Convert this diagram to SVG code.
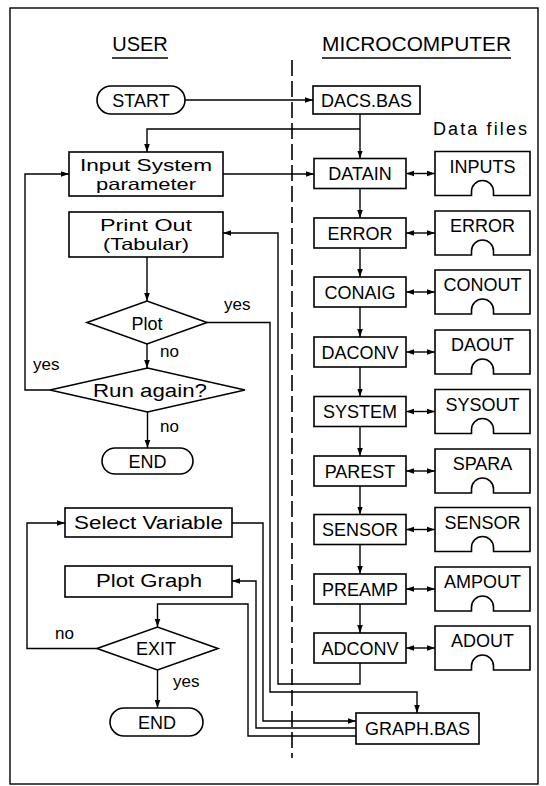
<svg xmlns="http://www.w3.org/2000/svg" width="546" height="786" viewBox="0 0 546 786">
<defs>
<marker id="ah" viewBox="0 0 10 10" refX="10" refY="5" markerWidth="8" markerHeight="8" markerUnits="userSpaceOnUse" orient="auto-start-reverse"><path d="M0,1.5 L10,5 L0,8.5 Z" fill="#000"/></marker>
</defs>
<style>
.b{fill:#fff;stroke:#000;stroke-width:1.6}
.c{fill:none;stroke:#000;stroke-width:1.4}
.a{marker-end:url(#ah)}
.d{marker-start:url(#ah);marker-end:url(#ah)}
text{font-family:"Liberation Sans",Arial,sans-serif;font-size:18px;fill:#000}
.m{text-anchor:middle}
.l{font-size:17px}
.t{font-size:16.5px}
</style>
<rect x="10" y="8" width="528" height="776" fill="#fff" stroke="#000" stroke-width="1.4"/>
<line x1="292" y1="60" x2="292" y2="758" stroke="#000" stroke-width="1.6" stroke-dasharray="16 5"/>
<g id="titles">
<text x="140" y="51" class="m" style="font-size:20px">USER</text>
<line x1="112" y1="58" x2="168" y2="58" stroke="#000" stroke-width="1.4"/>
<text x="416.5" y="51" class="m" style="font-size:20px" textLength="189" lengthAdjust="spacingAndGlyphs">MICROCOMPUTER</text>
<line x1="322" y1="58" x2="511" y2="58" stroke="#000" stroke-width="1.4"/>
<text x="480" y="135" class="m" textLength="94">Data files</text>
</g>
<g id="connectors">
<path class="c a" d="M185,100 H313"/>
<path class="c a" d="M360,114 V158.5"/>
<path class="c a" d="M360,129 H147 V152"/>
<path class="c a" d="M223,174 H314"/>
<path class="c a" d="M360,188.5 V218"/>
<path class="c a" d="M360,248 V277"/>
<path class="c a" d="M360,307 V337"/>
<path class="c a" d="M360,367 V396.5"/>
<path class="c a" d="M360,426.5 V456"/>
<path class="c a" d="M360,486 V514.5"/>
<path class="c a" d="M360,544.5 V574"/>
<path class="c a" d="M360,604 V633"/>
<path class="c d" d="M406,173.5 H435"/>
<path class="c d" d="M406,233 H435"/>
<path class="c d" d="M406,292 H435"/>
<path class="c d" d="M406,352 H435"/>
<path class="c d" d="M406,411.5 H435"/>
<path class="c d" d="M406,471 H435"/>
<path class="c d" d="M406,529.5 H435"/>
<path class="c d" d="M406,589 H435"/>
<path class="c d" d="M406,648 H435"/>
<path class="c a" d="M147,257 V301"/>
<path class="c a" d="M147,344 V368"/>
<path class="c a" d="M147.5,412 V448"/>
<path class="c a" d="M50,390 H25 V174 H69"/>
<path class="c a" d="M207,322.5 H270 V692 H417 V713"/>
<path class="c a" d="M360,663 V684 H278 V233 H223"/>
<path class="c a" d="M232,523 H263 V721 H356"/>
<path class="c a" d="M356,728 H256 V581 H232"/>
<path class="c a" d="M356,736 H248 V604 H157.5 V627"/>
<path class="c a" d="M97,648.5 H27 V523 H65"/>
<path class="c a" d="M157.5,670 V708"/>
</g>
<g id="start"><rect class="b" x="97" y="86" width="88" height="28" rx="14"/><text x="141" y="107" class="m">START</text></g>
<g id="dacs"><rect class="b" x="313" y="86" width="107" height="28"/><text x="366.5" y="107" class="m">DACS.BAS</text></g>
<g id="input"><rect class="b" x="69" y="152" width="154" height="44"/><text x="146" y="171" class="m t" textLength="132" lengthAdjust="spacingAndGlyphs">Input System</text><text x="146" y="190" class="m t" textLength="100" lengthAdjust="spacingAndGlyphs">parameter</text></g>
<g id="printout"><rect class="b" x="69" y="212" width="154" height="45"/><text x="146" y="231" class="m t" textLength="92" lengthAdjust="spacingAndGlyphs">Print Out</text><text x="146" y="250" class="m t" textLength="86" lengthAdjust="spacingAndGlyphs">(Tabular)</text></g>
<g id="plot"><polygon class="b" points="87,322.5 147,301 207,322.5 147,344"/><text x="147" y="330" class="m">Plot</text></g>
<g id="runagain"><polygon class="b" points="50,390 147.5,368 245,390 147.5,412"/><text x="150" y="397" class="m" textLength="114" lengthAdjust="spacingAndGlyphs">Run again?</text></g>
<g id="end1"><rect class="b" x="102" y="448" width="91" height="26" rx="13"/><text x="147.5" y="467.5" class="m">END</text></g>
<g id="selectvar"><rect class="b" x="65" y="508" width="167" height="29"/><text x="148.5" y="529" class="m" textLength="149" lengthAdjust="spacingAndGlyphs">Select Variable</text></g>
<g id="plotgraph"><rect class="b" x="65" y="566" width="167" height="31"/><text x="149" y="587" class="m" textLength="106" lengthAdjust="spacingAndGlyphs">Plot Graph</text></g>
<g id="exit"><polygon class="b" points="97,648.5 157.5,627 218,648.5 157.5,670"/><text x="156" y="655" class="m">EXIT</text></g>
<g id="end2"><rect class="b" x="110" y="708" width="93" height="28" rx="14"/><text x="157" y="728.5" class="m">END</text></g>
<g id="graphbas"><rect class="b" x="356" y="713" width="123" height="31"/><text x="417.5" y="735" class="m">GRAPH.BAS</text></g>
<g id="labels">
<text x="224" y="310" class="l">yes</text>
<text x="160" y="357" class="l">no</text>
<text x="33" y="370" class="l">yes</text>
<text x="160" y="432" class="l">no</text>
<text x="55" y="639" class="l">no</text>
<text x="173" y="687" class="l">yes</text>
</g>
<g id="datain"><rect class="b" x="314" y="158.5" width="92" height="30"/><text x="360" y="180" class="m">DATAIN</text></g>
<g id="error"><rect class="b" x="314" y="218" width="92" height="30"/><text x="360" y="239.5" class="m">ERROR</text></g>
<g id="conaig"><rect class="b" x="314" y="277" width="92" height="30"/><text x="360" y="298.5" class="m">CONAIG</text></g>
<g id="daconv"><rect class="b" x="314" y="337" width="92" height="30"/><text x="360" y="358.5" class="m">DACONV</text></g>
<g id="system"><rect class="b" x="314" y="396.5" width="92" height="30"/><text x="360" y="418" class="m">SYSTEM</text></g>
<g id="parest"><rect class="b" x="314" y="456" width="92" height="30"/><text x="360" y="477.5" class="m">PAREST</text></g>
<g id="sensor"><rect class="b" x="314" y="514.5" width="92" height="30"/><text x="360" y="536" class="m">SENSOR</text></g>
<g id="preamp"><rect class="b" x="314" y="574" width="92" height="30"/><text x="360" y="595.5" class="m">PREAMP</text></g>
<g id="adconv"><rect class="b" x="314" y="633" width="92" height="30"/><text x="360" y="654.5" class="m">ADCONV</text></g>
<g id="f-inputs"><path class="b" d="M435,151.5 H530 V195.5 H493.5 v-4 a11,11 0 0 0 -22,0 v4 H435 Z"/><text x="482.5" y="172.5" class="m">INPUTS</text></g>
<g id="f-error"><path class="b" d="M435,211 H530 V255 H493.5 v-4 a11,11 0 0 0 -22,0 v4 H435 Z"/><text x="482.5" y="232" class="m">ERROR</text></g>
<g id="f-conout"><path class="b" d="M435,270 H530 V314 H493.5 v-4 a11,11 0 0 0 -22,0 v4 H435 Z"/><text x="482.5" y="291" class="m">CONOUT</text></g>
<g id="f-daout"><path class="b" d="M435,330 H530 V374 H493.5 v-4 a11,11 0 0 0 -22,0 v4 H435 Z"/><text x="482.5" y="351" class="m">DAOUT</text></g>
<g id="f-sysout"><path class="b" d="M435,389.5 H530 V433.5 H493.5 v-4 a11,11 0 0 0 -22,0 v4 H435 Z"/><text x="482.5" y="410.5" class="m">SYSOUT</text></g>
<g id="f-spara"><path class="b" d="M435,449 H530 V493 H493.5 v-4 a11,11 0 0 0 -22,0 v4 H435 Z"/><text x="482.5" y="470" class="m">SPARA</text></g>
<g id="f-sensor"><path class="b" d="M435,507.5 H530 V551.5 H493.5 v-4 a11,11 0 0 0 -22,0 v4 H435 Z"/><text x="482.5" y="528.5" class="m">SENSOR</text></g>
<g id="f-ampout"><path class="b" d="M435,567 H530 V611 H493.5 v-4 a11,11 0 0 0 -22,0 v4 H435 Z"/><text x="482.5" y="588" class="m">AMPOUT</text></g>
<g id="f-adout"><path class="b" d="M435,626 H530 V670 H493.5 v-4 a11,11 0 0 0 -22,0 v4 H435 Z"/><text x="482.5" y="647" class="m">ADOUT</text></g>
</svg>
